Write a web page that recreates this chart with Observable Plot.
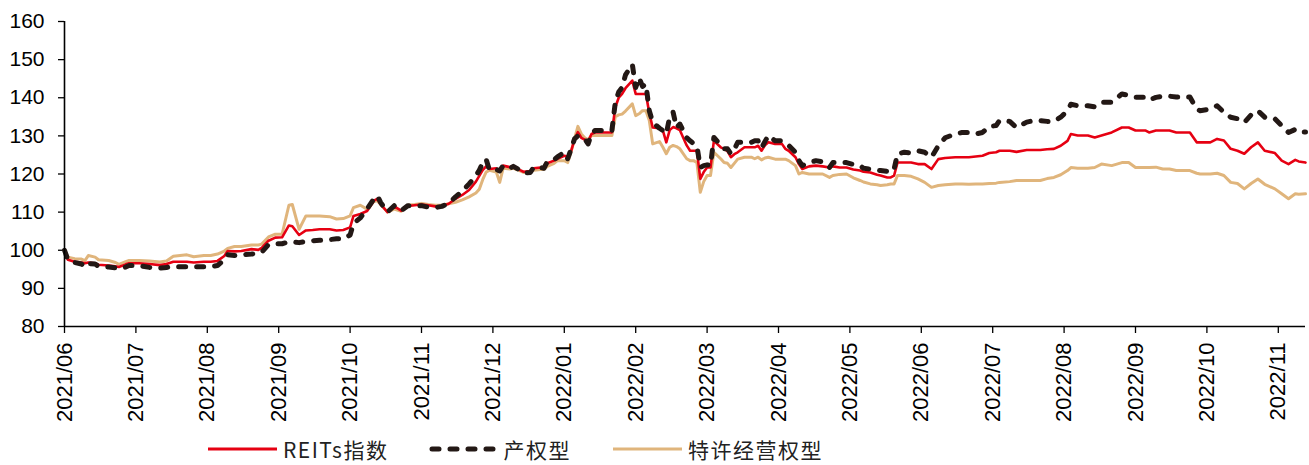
<!DOCTYPE html>
<html>
<head>
<meta charset="utf-8">
<script src="https://cdn.jsdelivr.net/npm/d3@7"></script>
<script src="https://cdn.jsdelivr.net/npm/@observablehq/plot@0.6"></script>
<style>
  html, body { margin: 0; padding: 0; background: #fff; }
  #chart svg { display: block; }
  #legend { display: flex; align-items: center; height: 32px; padding-left: 208px;
    font-family: "Noto Sans CJK SC", sans-serif; font-size: 21px; color: #222; line-height: 32px; letter-spacing: 1.5px; }
  #legend .item { display: flex; align-items: center; height: 32px; }
  #legend svg { display: block; margin-right: 6px; }
</style>
</head>
<body>
<div id="chart"></div>
<div id="legend"></div>
<script>
// trading-day index (ticks every 21 trading days, labelled by month)
const day = [0,1,3,5,6,7,9,10,13,15,16,18,19,22,25,28,30,32,34,36,38,41,43,45,47,48,50,52,55,57,58,60,62,64,66,67,69,71,73,75,78,80,82,84,85,87,89,91,92,93,95,97,99,101,103,105,107,109,111,113,115,117,119,121,122,123,124,125,127,128,129,131,132,134,135,137,138,140,141,142,144,145,147,148,149,150,151,152,153,154,155,156,158,161,162,163,164,165,167,168,169,170,171,172,173,175,176,177,178,179,180,181,183,184,185,186,187,188,189,190,191,193,194,195,196,197,198,200,202,203,204,205,206,207,209,211,212,213,215,216,217,219,221,223,225,226,228,230,232,234,235,237,239,240,242,243,244,245,247,249,251,253,255,257,259,262,264,266,268,270,272,274,275,278,280,283,285,287,289,291,293,295,296,298,301,303,305,308,311,313,315,318,319,321,323,325,327,329,331,333,334,337,339,341,343,345,347,349,351,353,356,358,360,362,363,365];

const reits = [100,97.5,97.0,96.8,96.6,96.8,96.6,96.2,96.0,95.8,95.6,96.3,96.6,96.6,96.4,96.1,96.4,97.0,97.0,97.0,96.8,97.0,97.0,97.2,98.5,99.8,99.7,99.8,100.3,100.1,100.6,102.5,103.3,103.4,106.5,106.3,104.0,105.2,105.3,105.5,105.5,105.2,105.3,106.0,109.0,109.5,110.3,113.0,113.5,112.0,110.0,111.5,110.4,111.6,111.8,112.0,111.8,111.5,111.6,112.2,113.5,114.5,115.8,118.0,119.5,121.0,122.0,121.3,121.5,121.0,122.2,121.8,122.0,121.0,120.6,120.8,121.5,121.7,121.5,122.8,123.5,124.0,124.8,124.5,126.0,129.0,131.0,129.5,129.0,128.5,130.5,130.9,130.9,130.9,137.5,140.0,141.0,142.5,144.5,141.0,141.0,141.0,141.0,136.0,132.2,132.0,131.4,128.3,131.5,132.3,132.0,131.5,127.5,126.1,126.1,126.1,118.7,120.5,121.7,121.7,128.7,127.0,126.6,126.0,124.4,125.2,125.7,127.0,127.0,127.0,127.4,126.1,127.5,128.3,127.9,127.9,126.6,126.1,124.4,122.6,121.3,122.0,122.2,122.0,121.7,122.0,121.7,121.7,121.2,120.9,120.6,120.4,119.8,119.6,119.1,119.1,119.6,123.0,123.0,123.0,122.6,122.6,121.3,123.9,124.2,124.4,124.4,124.4,124.6,124.8,125.5,125.7,126.1,126.1,125.8,126.3,126.3,126.3,126.5,126.6,127.4,128.7,130.5,130.1,130.1,129.6,130.1,130.9,132.2,132.2,131.4,131.4,130.9,131.4,131.4,131.4,130.9,130.9,130.9,128.3,128.3,128.3,129.2,128.8,126.6,126.1,125.3,127.0,128.3,126.1,125.5,123.5,122.6,123.7,123.3,123.0];

const property = [100,97.5,96.8,96.4,95.6,96.5,96.4,95.8,95.6,95.4,95.1,95.6,96.0,96.0,95.5,95.3,95.5,95.7,95.7,95.7,95.7,95.7,95.7,96.0,97.5,98.8,98.6,98.8,99.0,99.2,99.5,101.5,101.7,101.7,102.2,102.2,102.0,102.3,102.5,102.6,102.8,103.0,103.0,104.0,107.0,108.5,110.8,113.5,114.3,112.5,110.0,111.7,110.4,111.7,111.5,111.7,111.3,111.2,111.5,112.3,114.0,115.5,117.4,119.5,121.0,123.0,123.9,121.0,121.2,120.8,122.2,121.5,122.0,121.0,120.2,120.4,121.8,121.7,121.5,123.2,123.7,124.5,125.7,124.0,126.5,129.2,130.0,129.5,129.2,127.9,130.5,131.4,131.4,131.4,138.8,141.5,142.7,146.0,148.8,142.7,145.3,143.0,143.6,136.6,133.5,132.0,131.4,130.5,135.0,136.2,132.2,133.1,129.5,128.7,128.0,127.4,121.7,122.2,122.4,122.2,129.6,127.5,126.6,126.6,125.3,126.5,128.3,128.3,128.3,128.7,128.7,126.8,128.5,130.1,128.7,128.7,127.9,127.5,125.7,123.5,122.2,123.0,123.5,123.2,121.7,123.0,123.0,123.0,122.5,122.2,121.5,121.3,121.0,120.9,120.7,120.4,121.3,125.3,125.7,125.5,126.1,125.7,124.4,127.4,129.5,130.5,130.9,130.9,130.5,130.9,132.5,132.7,134.0,133.8,132.2,133.6,134.0,134.0,133.8,133.8,134.9,136.6,138.3,137.9,137.9,137.6,138.8,138.8,141.0,140.6,140.1,140.1,139.4,140.1,140.4,140.4,140.2,140.2,140.2,137.0,136.6,137.0,137.9,136.2,134.9,134.5,133.5,135.5,136.6,134.9,134.5,132.7,130.9,131.7,131.0,131.0];

const franchise = [100,98.2,97.8,97.7,97.3,98.6,98.2,97.5,97.3,96.8,96.3,97.0,97.3,97.3,97.2,96.9,97.2,98.4,98.6,98.8,98.3,98.6,98.6,99.0,99.8,100.5,101.0,101.0,101.4,101.4,101.6,103.5,104.2,104.2,111.8,112.0,105.5,109.0,109.0,109.0,108.8,108.2,108.3,109.0,111.2,111.8,110.8,112.8,113.0,112.0,110.0,110.8,110.2,111.8,112.0,112.3,112.0,111.8,111.8,112.2,112.6,113.2,114.0,115.0,116.0,118.5,120.5,121.0,120.5,117.8,121.5,121.3,121.5,120.8,120.4,120.5,121.0,121.2,121.2,122.0,122.8,123.5,123.5,123.0,125.8,129.2,132.5,130.5,129.5,129.0,130.1,130.1,130.1,130.1,135.0,135.5,135.7,136.5,138.4,135.3,135.8,136.6,136.6,134.0,127.9,128.5,127.0,125.3,127.0,127.5,127.2,126.6,124.0,123.5,123.5,123.0,115.2,118.0,119.6,119.6,125.7,124.0,123.0,122.8,121.7,122.8,123.9,124.4,124.4,124.0,124.4,123.7,124.2,124.4,123.9,123.9,123.9,123.5,122.2,120.0,120.4,120.0,120.0,120.0,119.1,119.6,119.9,120.0,119.0,118.3,117.9,117.4,117.2,117.0,117.2,117.4,117.4,119.6,119.6,119.4,118.7,117.8,116.5,117.0,117.2,117.4,117.4,117.3,117.4,117.4,117.5,117.6,117.8,118.0,118.3,118.3,118.3,118.3,118.8,119.1,119.8,120.9,121.7,121.5,121.5,121.7,122.6,122.2,123.0,123.0,121.7,121.7,121.7,121.8,121.3,121.3,120.9,120.9,120.9,120.2,120.0,120.0,120.2,119.6,117.8,117.5,116.1,117.5,118.7,117.3,116.1,114.8,113.5,114.8,114.7,114.8];

const tickLabels = ["2021/06","2021/07","2021/08","2021/09","2021/10","2021/11","2021/12","2022/01","2022/02","2022/03","2022/04","2022/05","2022/06","2022/07","2022/08","2022/09","2022/10","2022/11"];
const daysPerTick = 21;
const yTicks = [80, 90, 100, 110, 120, 130, 140, 150, 160];
const seriesNames = ["REITs指数", "产权型", "特许经营权型"];
const seriesColors = ["#E60012", "#231815", "#E0B57C"];

const xTicks = tickLabels.map((_, i) => i * daysPerTick);
const rows = (vals) => day.map((d, i) => ({d, v: vals[i]}));

const chart = Plot.plot({
  width: 1309,
  height: 433,
  marginLeft: 64,
  marginRight: 4,
  marginTop: 21,
  marginBottom: 107,
  style: {fontFamily: "'Liberation Sans', Arial, sans-serif", fontSize: "21px", color: "#000", background: "#fff"},
  x: {domain: [0, 365], axis: null},
  y: {domain: [80, 160], axis: null},
  marks: [
    Plot.axisY({ticks: yTicks, tickSize: 6, tickPadding: 14, fontSize: 21, label: null, stroke: "#000", strokeWidth: 1.3}),
    Plot.axisX({ticks: xTicks, tickFormat: (d) => tickLabels[Math.round(d / daysPerTick)], tickRotate: -90,
      tickSize: 7, tickPadding: 9, fontSize: 22, label: null, stroke: "#000", strokeWidth: 1.3}),
    Plot.line(rows(franchise), {x: "d", y: "v", stroke: seriesColors[2], strokeWidth: 3, strokeLinejoin: "round"}),
    Plot.line(rows(reits), {x: "d", y: "v", stroke: seriesColors[0], strokeWidth: 2.6, strokeLinejoin: "round"}),
    Plot.line(rows(property), {x: "d", y: "v", stroke: seriesColors[1], strokeWidth: 5, strokeDasharray: "7,11",
      strokeLinecap: "round", strokeLinejoin: "round"}),
    Plot.ruleX([0], {stroke: "#000", strokeWidth: 1.6}),
    Plot.ruleY([80], {stroke: "#000", strokeWidth: 1.6})
  ]
});
document.getElementById("chart").appendChild(chart);

// legend
const legend = document.getElementById("legend");
const gaps = [0, 40, 42];
seriesNames.forEach((name, i) => {
  const item = document.createElement("div");
  item.className = "item";
  item.style.marginLeft = gaps[i] + "px";
  const dash = i === 1 ? 'stroke-dasharray="7,11" stroke-linecap="round" stroke-width="5"' : 'stroke-width="3"';
  const x1 = i === 1 ? 4 : 0, x2 = i === 1 ? 66 : 69;
  item.innerHTML = `<svg width="69" height="10"><line x1="${x1}" x2="${x2}" y1="5" y2="5" stroke="${seriesColors[i]}" ${dash}/></svg><span>${name}</span>`;
  legend.appendChild(item);
});
</script>
</body>
</html>
